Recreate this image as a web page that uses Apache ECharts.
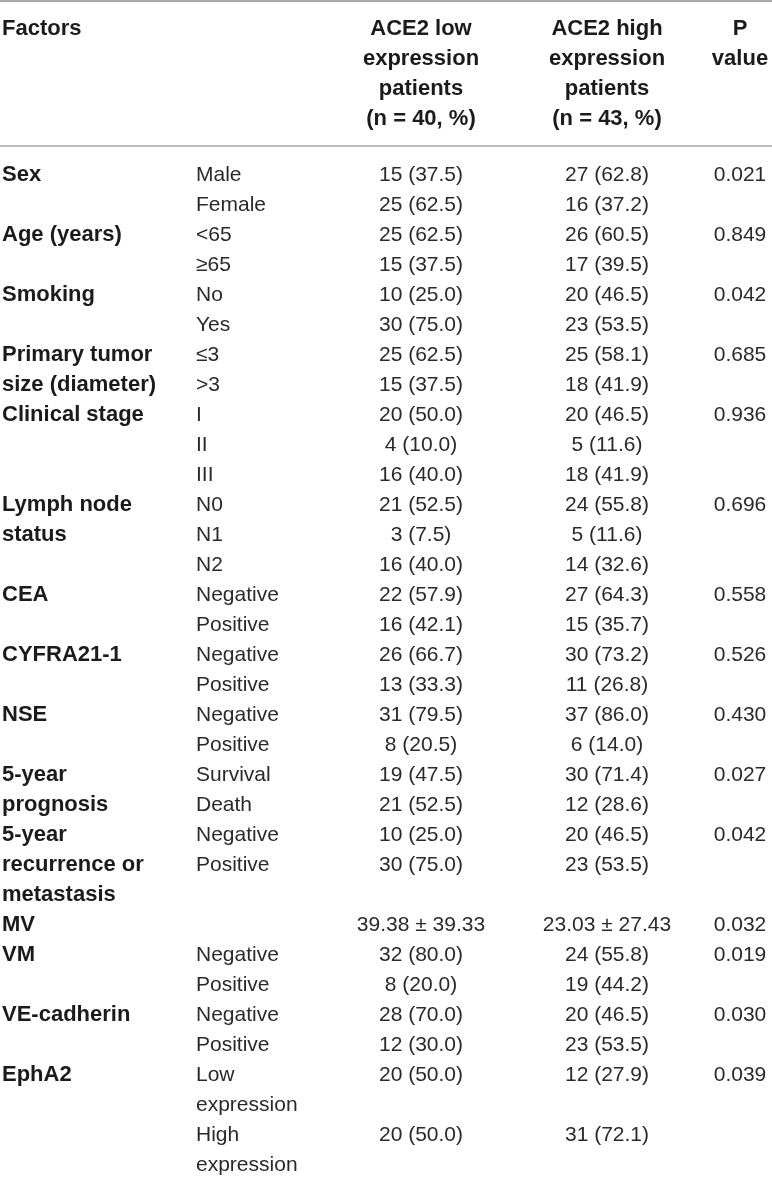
<!DOCTYPE html>
<html>
<head>
<meta charset="utf-8">
<script src="https://cdn.jsdelivr.net/npm/echarts@6/dist/echarts.min.js"></script>
<style>
  html, body { margin: 0; padding: 0; background: #fff; }
  #chart { width: 772px; height: 1177px; }
</style>
</head>
<body>
<div id="chart"></div>
<script>
// table content
const headerFactors = ['Factors'];
const headerLow = ['ACE2 low', 'expression', 'patients', '(n = 40, %)'];
const headerHigh = ['ACE2 high', 'expression', 'patients', '(n = 43, %)'];
const headerP = ['P', 'value'];

const factors = [
  'Sex', 'Age (years)', 'Smoking', 'Primary tumor\nsize (diameter)',
  'Clinical stage', 'Lymph node\nstatus', 'CEA', 'CYFRA21-1', 'NSE',
  '5-year\nprognosis', '5-year\nrecurrence or\nmetastasis', 'MV', 'VM',
  'VE-cadherin', 'EphA2',
];
const levels = [
  ['Male', 'Female'], ['<65', '≥65'], ['No', 'Yes'], ['≤3', '>3'],
  ['I', 'II', 'III'], ['N0', 'N1', 'N2'], ['Negative', 'Positive'],
  ['Negative', 'Positive'], ['Negative', 'Positive'], ['Survival', 'Death'],
  ['Negative', 'Positive'], [''], ['Negative', 'Positive'],
  ['Negative', 'Positive'], ['Low\nexpression', 'High\nexpression'],
];
const lowGroup = [
  ['15 (37.5)', '25 (62.5)'], ['25 (62.5)', '15 (37.5)'],
  ['10 (25.0)', '30 (75.0)'], ['25 (62.5)', '15 (37.5)'],
  ['20 (50.0)', '4 (10.0)', '16 (40.0)'], ['21 (52.5)', '3 (7.5)', '16 (40.0)'],
  ['22 (57.9)', '16 (42.1)'], ['26 (66.7)', '13 (33.3)'],
  ['31 (79.5)', '8 (20.5)'], ['19 (47.5)', '21 (52.5)'],
  ['10 (25.0)', '30 (75.0)'], ['39.38 ± 39.33'],
  ['32 (80.0)', '8 (20.0)'], ['28 (70.0)', '12 (30.0)'],
  ['20 (50.0)', '20 (50.0)'],
];
const highGroup = [
  ['27 (62.8)', '16 (37.2)'], ['26 (60.5)', '17 (39.5)'],
  ['20 (46.5)', '23 (53.5)'], ['25 (58.1)', '18 (41.9)'],
  ['20 (46.5)', '5 (11.6)', '18 (41.9)'], ['24 (55.8)', '5 (11.6)', '14 (32.6)'],
  ['27 (64.3)', '15 (35.7)'], ['30 (73.2)', '11 (26.8)'],
  ['37 (86.0)', '6 (14.0)'], ['30 (71.4)', '12 (28.6)'],
  ['20 (46.5)', '23 (53.5)'], ['23.03 ± 27.43'],
  ['24 (55.8)', '19 (44.2)'], ['20 (46.5)', '23 (53.5)'],
  ['12 (27.9)', '31 (72.1)'],
];
const pValues = [
  '0.021', '0.849', '0.042', '0.685', '0.936', '0.696', '0.558', '0.526',
  '0.430', '0.027', '0.042', '0.032', '0.019', '0.030', '0.039',
];

// layout (axis units = pixels of the table)
const colX = [2, 196, 421, 607, 740];
const colAlign = ['left', 'left', 'center', 'center', 'center'];
const headerTop = 29;
const bodyTop = 175;
const lineStep = 30;
const rules = [{y: 1, color: '#a9a9a9'}, {y: 146, color: '#bdbdbd'}];

const cells = [];
function addCell(col, line, text, bold, top) {
  text.split('\n').forEach((t, i) => {
    cells.push({value: [colX[col], top + (line + i) * lineStep], text: t, bold, align: colAlign[col]});
  });
}

[headerFactors, [], headerLow, headerHigh, headerP].forEach((lines, c) => {
  lines.forEach((t, i) => addCell(c, i, t, true, headerTop));
});

let line = 0;
factors.forEach((f, i) => {
  addCell(0, line, f, true, bodyTop);
  addCell(4, line, pValues[i], false, bodyTop);
  let sub = line;
  levels[i].forEach((lv, j) => {
    addCell(1, sub, lv, false, bodyTop);
    addCell(2, sub, lowGroup[i][j], false, bodyTop);
    addCell(3, sub, highGroup[i][j], false, bodyTop);
    sub += lv.split('\n').length;
  });
  line = Math.max(sub, line + f.split('\n').length);
});

const chart = echarts.init(document.getElementById('chart'));
chart.setOption({
  animation: false,
  grid: {left: 0, right: 0, top: 0, bottom: 0},
  xAxis: {type: 'value', min: 0, max: 772, show: false},
  yAxis: {type: 'value', min: 0, max: 1177, inverse: true, show: false},
  series: [
    {
      type: 'custom',
      data: rules.map((r) => [0, r.y]),
      renderItem: (params, api) => {
        const a = api.coord([0, api.value(1)]);
        const b = api.coord([772, api.value(1)]);
        return {
          type: 'line',
          shape: {x1: a[0], y1: a[1], x2: b[0], y2: b[1]},
          style: {stroke: rules[params.dataIndex].color, lineWidth: 2},
        };
      },
    },
    {
      type: 'custom',
      data: cells.map((c) => c.value),
      renderItem: (params, api) => {
        const c = cells[params.dataIndex];
        const p = api.coord([api.value(0), api.value(1)]);
        return {
          type: 'text',
          x: p[0],
          y: p[1],
          style: {
            text: c.text,
            align: c.align,
            verticalAlign: 'middle',
            fill: c.bold ? '#1c1a1b' : '#2a2a2a',
            font: (c.bold ? 'bold 22px ' : '21px ') + '"Liberation Sans", Arial, sans-serif',
          },
        };
      },
    },
  ],
});
</script>
</body>
</html>
